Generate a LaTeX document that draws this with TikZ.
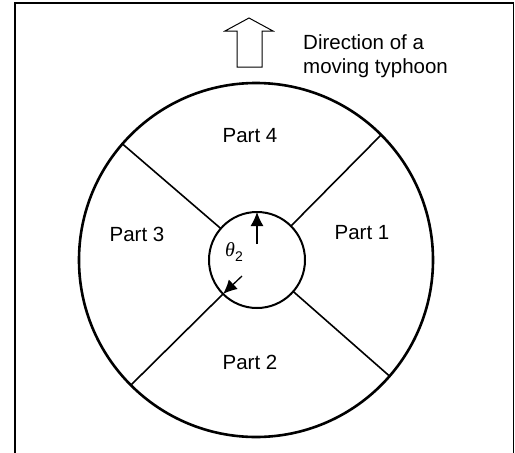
\documentclass[tikz,border=0pt]{standalone}
\usepackage{fontspec}
\setmainfont{Liberation Sans}
\newfontfamily\thetafont{Liberation Serif}
\usetikzlibrary{arrows.meta}
\begin{document}
\begin{tikzpicture}[x=1pt,y=-1pt,
  lbl/.style={font=\fontsize{20.5}{24}\selectfont, inner sep=0pt},
  ring/.style={circle, draw, inner sep=0pt, outer sep=0pt},
  divider/.style={line width=1.6pt},
  ptr/.style={line width=1.3pt, -{Latex[length=14pt,width=13pt]}}]
\useasboundingbox (0,0) rectangle (515,453);
% frame (open at bottom)
\draw[line width=1.3pt] (15,453) -- (15,3) -- (513.5,3) -- (513.5,453);
% circles
\node[ring, line width=2.6pt, minimum size=354pt] (outer) at (256,260) {};
\node[ring, line width=2pt, minimum size=96pt] (inner) at (257,260) {};
% dividers
\draw[divider] (inner.45) -- (outer.45);
\draw[divider] (inner.139) -- (outer.139);
\draw[divider] (inner.225) -- (outer.225);
\draw[divider] (inner.319) -- (outer.319);
% block arrow
\draw[line width=1pt, line join=miter] (237,67) -- (237,31) -- (225,31) -- (249,18) -- (273,31) -- (262,31) -- (262,67) -- cycle;
\node[lbl, align=left, anchor=base west] (dir) at (303,73) {Direction of a\\moving typhoon};
% labels
\node[lbl] (p4) at (250,136) {Part 4};
\node[lbl] (p1) at (362,233) {Part 1};
\node[lbl] (p3) at (137,234) {Part 3};
\node[lbl] (p2) at (250,362.5) {Part 2};
\node[inner sep=0pt] (theta) at (234,252) {{\thetafont\itshape\fontsize{20}{20}\selectfont θ}\raisebox{-4.5pt}{\fontsize{14}{14}\selectfont 2}};
% angle arrows
\coordinate (a1s) at (257,244);
\coordinate (a2s) at (242,276);
\draw[ptr] (a1s) -- (inner.north);
\draw[ptr] (a2s) -- (inner.225);
\end{tikzpicture}
\end{document}
